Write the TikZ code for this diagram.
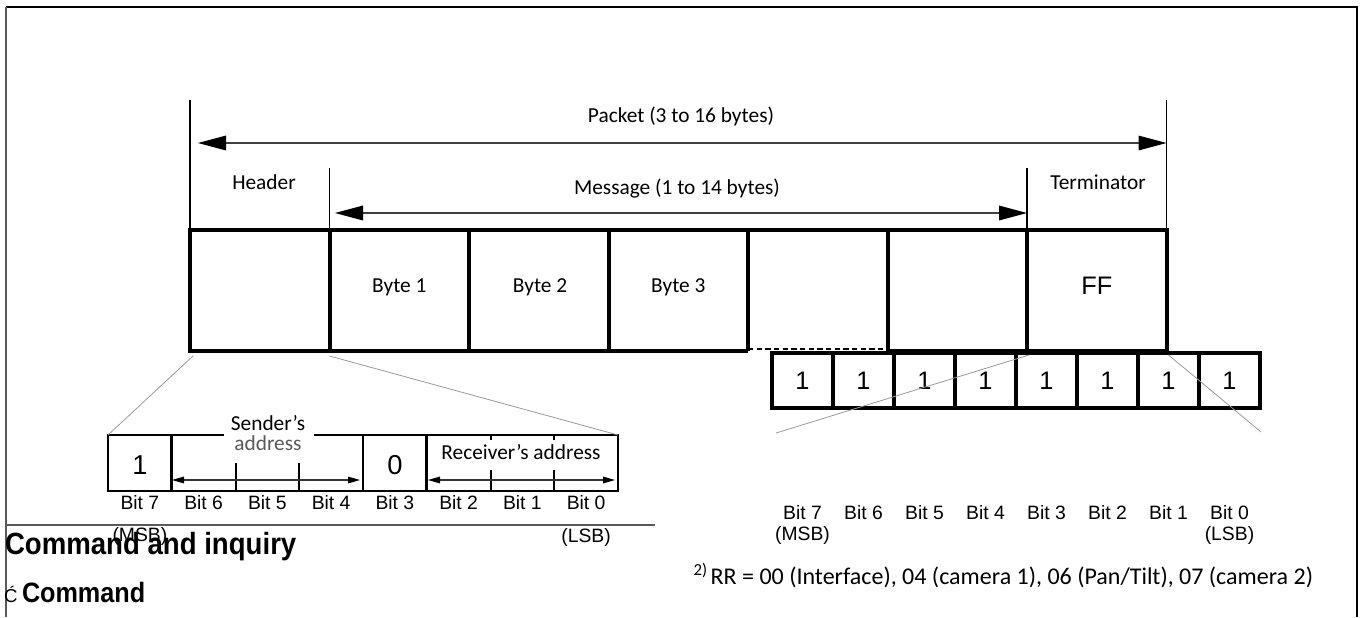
\documentclass[tikz,border=0pt]{standalone}
\usepackage{fontspec}
\setmainfont{Carlito}
\newfontfamily\arialf{Liberation Sans}
\newfontfamily\arialbf[FakeStretch=0.9]{Liberation Sans}
\usetikzlibrary{arrows.meta}
\begin{document}
\begin{tikzpicture}[x=0.75pt,y=-0.75pt,
  every node/.style={inner sep=0pt, outer sep=0pt},
  cal/.style={font=\fontsize{16pt}{19pt}\selectfont},
  calbig/.style={font=\fontsize{18pt}{21pt}\selectfont},
  ari/.style={font=\arialf\fontsize{14.5pt}{17pt}\selectfont},
  cellA/.style={minimum width=104.625pt, minimum height=90.75pt},
  cellB/.style={draw, line width=2.5pt, minimum width=45.75pt, minimum height=41.25pt,
                font=\arialf\fontsize{19pt}{22pt}\selectfont},
  cellC/.style={minimum width=47.8125pt, minimum height=42pt},
  boxline/.style={line width=3pt},
  hdrline/.style={line width=2pt},
  tickline/.style={line width=1.5pt},
  vline/.style={line width=1.2pt},
  thinline/.style={line width=0.6pt, draw=black!40},
  bigarrow/.style={line width=0.8pt, draw=black!75,
     {Triangle[length=21pt,width=11pt,color=black]}-{Triangle[length=21pt,width=11pt,color=black]}},
  smallarrow/.style={line width=0.8pt, draw=black!80,
     {Triangle[length=9pt,width=5pt,color=black]}-{Triangle[length=9pt,width=5pt,color=black]}},
]
\useasboundingbox (0,0) rectangle (1362,617);

% frame
\coordinate (f1) at (5.5,617);
\coordinate (f2) at (5.5,7);
\coordinate (f3) at (1357,7);
\coordinate (f4) at (1357,617);
\draw[line width=1.2pt] (f2) -- (f3) -- (f4);
\draw[line width=1.5pt, draw=black!65] (f1) -- (f2);

% packet cells
\foreach \i in {1,...,7} \node[cellA] (c\i) at ({190+139.5*(\i-0.5)},290.5) {};
\draw[boxline] (c5.south west) -- (c1.south west) -- (c1.north west) -- (c7.north east) -- (c7.south east) -- (c6.south west);
\foreach \i in {1,...,6} \draw[boxline] (c\i.north east) -- (c\i.south east);

% vertical markers
\coordinate (v1) at (190,100);
\coordinate (v2) at (1166.5,100);
\coordinate (v3) at (329.5,168);
\coordinate (v4) at (1027,168);
\draw[vline] (v1) -- (c1.north west);
\draw[vline] (v2) -- (c7.north east);
\draw[vline] (v3) -- (c2.north west);
\draw[vline] (v4) -- (c7.north west);

% dimension arrows
\coordinate (pa) at (198,143);
\coordinate (pb) at (1166.5,143);
\coordinate (ma) at (335,213);
\coordinate (mb) at (1027,213);
\draw[bigarrow] (pa) -- (pb);
\draw[bigarrow] (ma) -- (mb);

% labels above
\node[cal,anchor=base] (tpk) at (681,122) {Packet (3 to 16 bytes)};
\node[cal,anchor=base] (thd) at (264,189) {Header};
\node[cal,anchor=base] (tms) at (677,194) {Message (1 to 14 bytes)};
\node[cal,anchor=base] (ttm) at (1098,189) {Terminator};

% cell contents
\node[cal,anchor=base] (b1) at (399.25,292) {Byte 1};
\node[cal,anchor=base] (b2) at (540,292) {Byte 2};
\node[cal,anchor=base] (b3) at (678.25,292) {Byte 3};
\node[font=\arialf\fontsize{19pt}{22pt}\selectfont,anchor=base] (ff) at (1096.75,294) {FF};

% terminator bit row
\foreach \i in {1,...,8} \node[cellB] (r\i) at ({772+61*(\i-0.5)},380.5) {1};
\draw[line width=1.5pt, dash pattern=on 4pt off 2.5pt] ([yshift=1.2pt]c5.south west) -- ([yshift=1.2pt]c5.south east);
\foreach \i/\b in {1/7,2/6,3/5,4/4,5/3,6/2,7/1,8/0}
  \node[ari,anchor=base] (rb\i) at ({772+61*(\i-0.5)},519) {Bit \b};
\node[ari,anchor=base] (rmsb) at (802.5,540) {(MSB)};
\node[ari,anchor=base] (rlsb) at (1229.5,540) {(LSB)};

% header bit box
\foreach \i in {1,...,8} \node[cellC] (h\i) at ({108+63.75*(\i-0.5)},463) {};
\draw[hdrline] (h1.north west) rectangle (h8.south east);
\foreach \i in {1,4,5} \draw[hdrline] (h\i.north east) -- (h\i.south east);
\foreach \i in {2,3} \draw[tickline] (h\i.south east) -- ++(0,-28);
\foreach \i in {6,7} {
  \draw[tickline] (h\i.south east) -- ++(0,-21);
  \draw[tickline] (h\i.north east) -- ++(0,5);
}
\node[fill=white, minimum width=67.5pt, minimum height=6pt] (gap) at (269,435) {};
\node[cal,anchor=base] (snd) at (268,430) {Sender’s};
\node[cal,anchor=base,text=black!65] (adr) at (268,450) {address};
\node[cal,anchor=base] (rcv) at (521,459) {Receiver’s address};
\node[font=\arialf\fontsize{20.5pt}{24pt}\selectfont,anchor=base] (one) at (139.9,474) {1};
\node[font=\arialf\fontsize{20.5pt}{24pt}\selectfont,anchor=base] (zero) at (394.9,474) {0};
\coordinate (sa) at (172,480);
\coordinate (sb) at (360,480);
\coordinate (ra1) at (428,480);
\coordinate (rb1) at (615,480);
\draw[smallarrow] (sa) -- (sb);
\draw[smallarrow] (ra1) -- (rb1);
\foreach \i/\b in {1/7,2/6,3/5,4/4,5/3,6/2,7/1,8/0}
  \node[ari,anchor=base] (hb\i) at ({108+63.75*(\i-0.5)},509) {Bit \b};

% zoom lines
\coordinate (dl1) at (776,433);
\coordinate (dl2) at (1261,432);
\draw[thinline] ([shift={(3,5)}]c1.south west) -- (h1.north west);
\draw[thinline] ([shift={(0,5)}]c2.south west) -- (h8.north east);
\draw[thinline] ([shift={(2,4)}]c7.south west) -- (dl1);
\draw[thinline] ([shift={(2,4)}]c7.south east) -- (dl2);

% rule and headings
\coordinate (ra) at (5.5,525);
\coordinate (rbb) at (655,525);
\draw[line width=1.5pt, draw=black!65] (ra) -- (rbb);
\node[ari,anchor=base] (lmsb) at (139.9,541) {(MSB)};
\node[ari,anchor=base] (llsb) at (586.1,542) {(LSB)};
\node[font=\arialbf\bfseries\fontsize{23pt}{27pt}\selectfont, anchor=base west] (hd) at (5,554) {Command and inquiry};
\node[font=\arialf\fontsize{14pt}{17pt}\selectfont, anchor=base west] (acc) at (4,602) {Ć};
\node[font=\arialbf\bfseries\fontsize{21pt}{25pt}\selectfont, anchor=base west] (cmd) at (22,602) {Command};

% footnote
\node[calbig,anchor=base east] (fn) at (1313,584) {\textsuperscript{2)}\kern2pt RR = 00 (Interface), 04 (camera 1), 06 (Pan/Tilt), 07 (camera 2)};
\end{tikzpicture}
\end{document}
